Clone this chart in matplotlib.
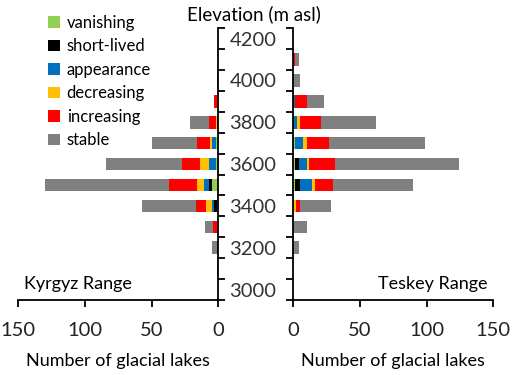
import matplotlib
matplotlib.use('Agg')
import matplotlib.pyplot as plt
import numpy as np
from matplotlib.patches import Patch

plt.rcParams['font.family'] = ['Lato', 'DejaVu Sans']

# elevation classes (m asl)
elevation = [3000, 3100, 3200, 3300, 3400, 3500, 3600, 3700, 3800, 3900, 4000, 4100, 4200]
categories = ['vanishing', 'short-lived', 'appearance', 'decreasing', 'increasing', 'stable']
colors = ['#92D050', '#000000', '#0070C0', '#FFC000', '#FF0000', '#808080']

# Kyrgyz Range
k_vanishing = [0, 0, 0, 0, 1, 5, 2, 2, 0, 0, 0, 0, 0]
k_short = [0, 0, 0, 0, 2, 2, 0, 0, 0, 0, 0, 0, 0]
k_appear = [0, 0, 0, 0, 2, 4, 5, 3, 1, 0, 1, 0, 0]
k_decrease = [0, 0, 0, 0, 4, 5, 7, 1, 1, 1, 0, 0, 0]
k_increase = [0, 0, 1, 4, 8, 21, 13, 10, 5, 2, 0, 0, 0]
k_stable = [0, 1, 4, 6, 40, 93, 57, 34, 14, 0, 0, 0, 0]

# Teskey Range
t_vanishing = [0, 0, 0, 0, 0, 1, 1, 1, 0, 0, 0, 0, 0]
t_short = [0, 0, 0, 0, 0, 4, 3, 0, 0, 0, 0, 0, 0]
t_appear = [0, 0, 0, 0, 0, 9, 6, 6, 3, 1, 0, 0, 0]
t_decrease = [0, 0, 0, 0, 2, 2, 2, 3, 2, 0, 0, 0, 0]
t_increase = [0, 0, 0, 0, 3, 14, 19, 17, 16, 9, 0, 1, 0]
t_stable = [0, 0, 4, 10, 23, 60, 93, 72, 41, 13, 5, 3, 0]

kyrgyz = [k_vanishing, k_short, k_appear, k_decrease, k_increase, k_stable]
teskey = [t_vanishing, t_short, t_appear, t_decrease, t_increase, t_stable]

fig = plt.figure(figsize=(5.12, 3.75), dpi=100)
axL = fig.add_axes([0.0358, 0.2, 0.3906, 0.725])
axR = fig.add_axes([0.5729, 0.2, 0.3906, 0.725])

y = np.arange(len(elevation))
for ax, series in [(axL, kyrgyz), (axR, teskey)]:
    left = np.zeros(len(elevation))
    for vals, c in zip(series, colors):
        vals = np.array(vals, dtype=float)
        ax.barh(y, vals, left=left, height=0.6, color=c, edgecolor='none')
        left += vals
    ax.set_xlim(0, 150)
    ax.set_ylim(-0.5, len(elevation) - 0.5)
    ax.set_xticks([0, 50, 100, 150])
    ax.set_yticks(np.arange(-0.5, len(elevation), 1.0))
    ax.set_yticklabels([])
    ax.tick_params(axis='both', direction='out', length=5, width=1.3, labelsize=14.5, color='black',
                   labelcolor='#222222')
    ax.tick_params(axis='x', pad=11)
    ax.set_xlabel('Number of glacial lakes', fontsize=13, labelpad=10)
    for s in ax.spines.values():
        s.set_linewidth(1.3)
    ax.spines['top'].set_visible(False)

# left panel: reversed x, axis on the right with elevation labels
axL.invert_xaxis()
axL.spines['left'].set_visible(False)
axL.yaxis.tick_right()
axL.set_yticks(y[::2], minor=True)
axL.set_yticklabels([str(e) for e in elevation[::2]], minor=True)
axL.tick_params(axis='y', which='minor', length=0, labelsize=14.5, pad=8, labelcolor='#333333')

axR.spines['right'].set_visible(False)

axL.text(0.03, 0.06, 'Kyrgyz Range', transform=axL.transAxes, fontsize=13, va='center', ha='left')
axR.text(0.97, 0.06, 'Teskey Range', transform=axR.transAxes, fontsize=13, va='center', ha='right')
fig.text(0.495, 0.962, 'Elevation (m asl)', fontsize=13.5, ha='center', va='center')

handles = [Patch(facecolor=c, edgecolor='none', label=n) for n, c in zip(categories, colors)]
axL.legend(handles=handles, loc='upper left', bbox_to_anchor=(0.078, 0.983), bbox_transform=fig.transFigure,
           frameon=False, fontsize=12, handlelength=0.7, handleheight=0.7, handletextpad=0.4,
           labelspacing=0.45, borderpad=0)

fig.savefig('out.png', dpi=100)
